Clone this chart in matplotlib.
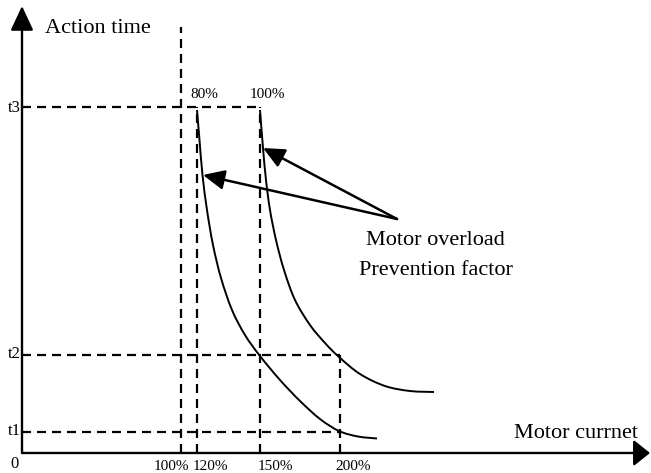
import matplotlib
matplotlib.use("Agg")
import matplotlib.pyplot as plt
from matplotlib.path import Path
from matplotlib.patches import PathPatch

plt.rcParams['font.family'] = ['Liberation Serif', 'DejaVu Serif']
plt.rcParams['lines.scale_dashes'] = False

# ---- data (schematic units, origin at axis corner) ----
time_levels = [21, 98, 346]
time_labels = ['t1', 't2', 't3']
current_pos = [159, 175, 238, 318]
current_labels = ['100%', '120%', '150%', '200%']

curve80_x = [175, 177.5, 180.5, 185, 191, 199, 210, 223, 238, 258, 278, 298, 317, 336, 355]
curve80_y = [343, 313, 278, 243, 208, 175, 143, 118, 97, 73, 52, 34, 22, 16.5, 14.5]
curve100_x = [238, 241, 244, 248, 254, 262, 273, 288, 303, 317, 338, 363, 388, 412]
curve100_y = [343, 305, 273, 243, 213, 183, 153, 128, 110, 96, 79, 67, 62, 61]
curve_labels = ['80%', '100%']

arrow_tail = (375, 234)
arrow_tips = [(181, 278), (241, 305)]


def smooth_path(xs, ys):
    """Smooth curve through the given points (Catmull-Rom as cubic Bezier)."""
    pts = list(zip(xs, ys))
    verts = [pts[0]]
    codes = [Path.MOVETO]
    n = len(pts)
    for i in range(n - 1):
        p0 = pts[i - 1] if i > 0 else pts[i]
        p1 = pts[i]
        p2 = pts[i + 1]
        p3 = pts[i + 2] if i + 2 < n else pts[i + 1]
        c1 = (p1[0] + (p2[0] - p0[0]) / 6.0, p1[1] + (p2[1] - p0[1]) / 6.0)
        c2 = (p2[0] - (p3[0] - p1[0]) / 6.0, p2[1] - (p3[1] - p1[1]) / 6.0)
        verts += [c1, c2, p2]
        codes += [Path.CURVE4] * 3
    return Path(verts, codes)


fig = plt.figure(figsize=(6.51, 4.73), dpi=100)
ax = fig.add_axes([0, 0, 1, 1])
ax.set_xlim(-22, 629)
ax.set_ylim(-20, 453)
ax.axis('off')

dash = dict(color='black', lw=1.6, dashes=(6.5, 4.3))

# axes with arrows
ax.annotate('', xy=(0, 447), xytext=(0, 0),
            arrowprops=dict(arrowstyle='-|>,head_length=0.6,head_width=0.28',
                            mutation_scale=25, lw=1.7, color='black',
                            shrinkA=0, shrinkB=0))
ax.annotate('', xy=(628, 0), xytext=(0, 0),
            arrowprops=dict(arrowstyle='-|>,head_length=0.5,head_width=0.4',
                            mutation_scale=20, lw=1.7, color='black',
                            shrinkA=0, shrinkB=0))

# horizontal dashed lines
ax.plot([0, current_pos[2]], [time_levels[2]] * 2, **dash)
ax.plot([0, current_pos[3]], [time_levels[1]] * 2, **dash)
ax.plot([0, current_pos[3]], [time_levels[0]] * 2, **dash)
# vertical dashed lines
ax.plot([current_pos[0]] * 2, [0, 426], **dash)
ax.plot([current_pos[1]] * 2, [0, time_levels[2]], **dash)
ax.plot([current_pos[2]] * 2, [0, time_levels[2]], **dash)
ax.plot([current_pos[3]] * 2, [0, time_levels[1]], **dash)

# curves
for cx, cy in [(curve80_x, curve80_y), (curve100_x, curve100_y)]:
    ax.add_patch(PathPatch(smooth_path(cx, cy), facecolor='none',
                           edgecolor='black', lw=1.4))

# pointer arrows
for tip in arrow_tips:
    ax.annotate('', xy=tip, xytext=arrow_tail,
                arrowprops=dict(arrowstyle='-|>,head_length=0.65,head_width=0.3',
                                mutation_scale=20, lw=1.8, color='black',
                                shrinkA=0, shrinkB=0))

# texts
big = 16
small = 11
ax.text(23, 420, 'Action time', fontsize=big, ha='left', va='baseline')
ax.text(616, 15, 'Motor currnet', fontsize=big, ha='right', va='baseline')
ax.text(413, 208, 'Motor overload', fontsize=big, ha='center', va='baseline')
ax.text(414, 178, 'Prevention factor', fontsize=big, ha='center', va='baseline')

ax.text(168, 355, curve_labels[0], fontsize=small, ha='left', va='baseline')
ax.text(228, 355, curve_labels[1], fontsize=small, ha='left', va='baseline')

tl_baseline = [18, 95, 341]
for lab, yb in zip(time_labels, tl_baseline):
    ax.text(-1, yb, lab, fontsize=small + 1, ha='right', va='baseline')
ax.text(-12, -15, '0', fontsize=small + 1, ha='left', va='baseline')

cl_left = [132, 171, 236, 313]
for lab, xl in zip(current_labels, cl_left):
    ax.text(xl, -17, lab, fontsize=small, ha='left', va='baseline')

fig.savefig('out.png', dpi=100)
